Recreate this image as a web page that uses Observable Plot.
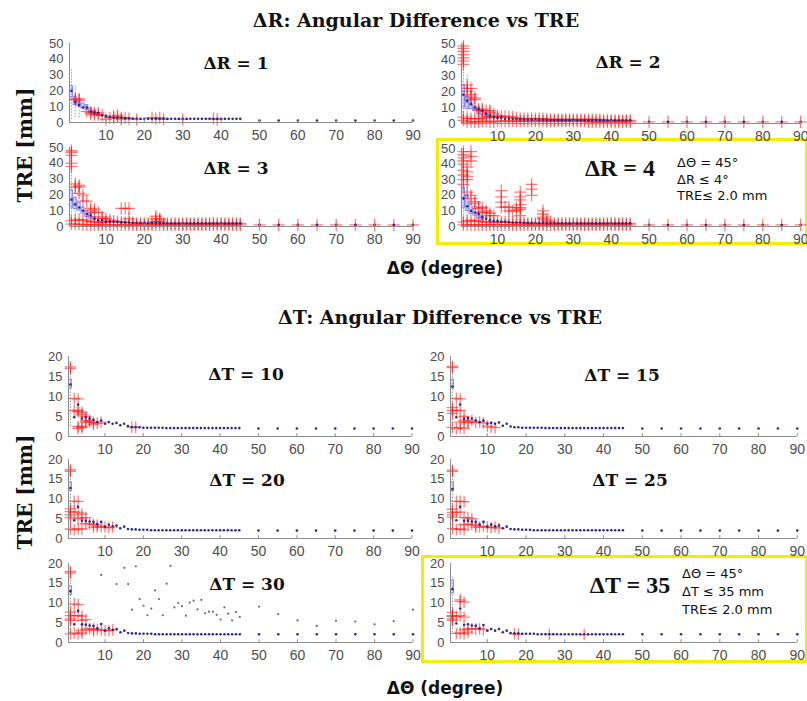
<!DOCTYPE html>
<html><head><meta charset="utf-8">
<script src="https://cdn.jsdelivr.net/npm/d3@7"></script>
<script src="https://cdn.jsdelivr.net/npm/@observablehq/plot@0.6"></script>
<style>
html,body{margin:0;padding:0;background:#fff;}
#root{position:relative;width:807px;height:701px;overflow:hidden;background:#fff;}
.t{position:absolute;white-space:nowrap;line-height:1;transform:translate(-50%,-50%);color:#111;}
.serif{font-family:"DejaVu Serif",serif;font-weight:bold;}
.times{font-family:"Liberation Serif","Times New Roman",serif;font-weight:bold;}
.sans{font-family:"DejaVu Sans",sans-serif;font-weight:bold;}
.note{position:absolute;font-family:"DejaVu Sans",sans-serif;font-size:13px;color:#111;white-space:nowrap;}
.ybox{position:absolute;border:3px solid #f2ee00;box-sizing:border-box;}
</style></head><body><div id="root"></div>
<script>
// ---------- DATA ----------
const xPos = [1,2,3,4,5,6,7,8,9,10,11,12,13,14,15,16,17,18,19,20,21,22,23,24,25,26,27,28,29,30,31,32,33,34,35,36,37,38,39,40,41,42,43,44,45,50,55,60,65,70,75,80,85,90];
const xTicks = [10,20,30,40,50,60,70,80,90];
const yTicksR = [0,10,20,30,40,50];
const yTicksT = [0,5,10,15,20];

// medians (one per xPos)
const medR1 = [20,13,11,9.5,9.5,7,6.5,6,4.5,4, 3.5,3,3,3,2.8,2.6,2.5,2.5,2.4,2.4, 2.3,2.3,2.3,2.3,2.3,2.3,2.3,2.3,2.3,2.3, 2.3,2.3,2.3,2.3,2.3,2.3,2.3,2.3,2.3,2.3, 2.3,2.3,2.3,2.3,2.3, 1.3,1.3,1.3,1.3,1.3,1.3,1.3,1.3,1.3];
const medR2 = [18,14,12,10,9,8,6,5,4,3.5, 3.5,3,3,2.8,2.8,2.6,2.5,2.5,2.4,2.4, 2.3,2.3,2.2,2.2,2.2,2.1,2.1,2.1,2.1,2.1, 2,2,2,2,2,2,2,2,2,2, 2,2,2,2,2, 1,1,1,1,1,1,1,1,1];
const medR3 = [17,14,12,10,8,7,5,4,4,3, 3,3,2.8,2.6,2.6,2.5,2.4,2.4,2.3,2.3, 2.2,2.2,2.2,2.1,2.1,2.1,2,2,2,2, 2,2,2,2,2,2,2,2,2,2, 2,2,2,2,2, 1,1,1,1,1,1,1,1,1];
const medR4 = [18,13,10,9,8,6,5,4,3.5,3.5, 3,3,2.8,2.6,2.5,2.5,2.4,2.3,2.3,2.2, 2.2,2.2,2.1,2.1,2.1,2,2,2,2,2, 2,2,2,2,2,2,2,2,2,2, 2,2,2,2,2, 1,1,1,1,1,1,1,1,1];
const medT10 = [13,4.8,8,4.5,4.8,4.5,4.2,3.6,4,3.2, 3.6,3.2,3.4,2.8,3.2,2.6,2.3,2.3,2.3,2.2, 2.2,2.2,2.2,2.2,2.2,2.1,2.1,2.1,2.1,2.1, 2.1,2.1,2.1,2.1,2.1,2.1,2.1,2.1,2.1,2.1, 2.1,2.1,2.1,2.1,2.1, 2,2,2,2,2,2,2,2,2];
const medT15 = [12.5,4.8,8,4.4,4.6,4.5,4,3.6,4,3.2, 3.4,3.2,3.5,2.7,3.2,2.5,2.3,2.3,2.2,2.2, 2.2,2.2,2.2,2.2,2.1,2.1,2.1,2.1,2.1,2.1, 2.1,2.1,2.1,2.1,2.1,2.1,2.1,2.1,2.1,2.1, 2.1,2.1,2.1,2.1,2.1, 2,2,2,2,2,2,2,2,2];
const medT20 = [12.8,4.6,8,4.5,4.5,4.3,4.2,3.6,4.2,3, 3.5,3.1,3.3,2.6,3,2.4,2.3,2.3,2.2,2.2, 2.2,2.1,2.1,2.1,2.1,2.1,2.1,2.1,2.1,2.1, 2.1,2.1,2.1,2.1,2.1,2.1,2.1,2.1,2.1,2.1, 2.1,2.1,2.1,2.1,2.1, 2,2,2,2,2,2,2,2,2];
const medT25 = [12.5,4.6,8,4.5,4.5,4.3,4.2,3.6,4.2,3, 3.5,3.1,3.3,2.6,3,2.4,2.3,2.3,2.2,2.2, 2.2,2.1,2.1,2.1,2.1,2.1,2.1,2.1,2.1,2.1, 2.1,2.1,2.1,2.1,2.1,2.1,2.1,2.1,2.1,2.1, 2.1,2.1,2.1,2.1,2.1, 2,2,2,2,2,2,2,2,2];
const medT30 = [13,4.6,8,4.6,4.5,4.3,4.2,3.6,4.7,3, 3.6,3.2,3.4,2.6,3,2.4,2.3,2.3,2.2,2.2, 2.2,2.2,2.1,2.1,2.1,2.1,2.1,2.1,2.1,2.1, 2.1,2.1,2.1,2.1,2.1,2.1,2.1,2.1,2.1,2.1, 2.1,2.1,2.1,2.1,2.1, 2.1,2.1,2.1,2.1,2.1,2.1,2.1,2.1,2.1];
const medT35 = [13.5,4.8,8.6,4.5,4.6,4.3,4.2,3.6,4.4,3, 3.4,3,3.4,2.6,3,2.4,2.3,2.3,2.2,2.2, 2.2,2.2,2.1,2.1,2.1,2.1,2.1,2.1,2.1,2.1, 2.1,2.1,2.1,2.1,2.1,2.1,2.1,2.1,2.1,2.1, 2.1,2.1,2.1,2.1,2.1, 2.1,2.1,2.1,2.1,2.1,2.1,2.1,2.1,2.1];

// dense low outlier bands (lo: one per xPos, hi: x = 1..45)
const bandLoR2 = [2,1,1,1,1,1.5,1.5,1,1,1.5, 1.5,1.5,1.5,1.5,1.5,1.5,1.5,1.5,1.5,1.5, 1.5,1.5,1.5,1.5,1.5,1.5,1.5,1.5,1.5,1.5, 1.5,1.5,1.5,1,1,1,1,1,1,1, 1,1,1,1,1, 1,1,1,1,1,1,1,1,1];
const bandHiR2 = [4,3,3,3,3,3,4,4,4,4, 4.5,4.5,4,4,3.5,3,3,3,3,3, 3,3,2.5,2.5,2.5,2.5,2.5,2.5,2.5,2.5, 2.5,2.5,2.5,2.5,2.5,2.5,2.5,2,2,2, 2,2,2,2,2];
const bandLoR3 = [1.5,1.5,1.5,1,1,1,1,1,1,1, 1,1,1,1,1,1,1,1,1,1, 1,1,1,1,1,1,1,1,1,1, 1,1,1,1,1,1,1,1,1,1, 1,1,1,1,1, 1,1,1,1,1,1,1,1,1];
const bandHiR3 = [3.5,4,4.5,4,3.5,3,3,2.5,2.5,3, 3,3.5,3,3,2.5,2.5,2.5,2,2,2, 2,2,3,3,2,2,2,2,2,2, 2,2,2,2,2,2,2,2,2,2, 2,2,2,2,2];
const bandLoR4 = [1,1,1,1,1,1,1,1,1,1, 1,1,1,1,1,1,1,1,1,1, 1,1,1,1,1,1,1,1,1,1, 1,1,1,1,1,1,1,1,1,1, 1,1,1,1,1, 1,1,1,1,1,1,1,1,1];
const bandHiR4 = [3,3.5,4,3.5,3.5,3,3,3,2.5,3, 3,3,2.5,2.5,2.5,2.5,2.5,2,2,2, 2,2,3,3,2,2,2,2,2,2, 2,2,2,2,2,2,2,2,2,2, 2,2,2,2,2];

// scattered outliers [x, TRE]
const outR1 = [[2,15],[3,15],[2,14.5],[3,14],[5,7],[6,6.5],[7,6],[8,6],[6,5.5],[7,5],[8,5],[9,4.5],[10,2],[11,3],[12,4],[12,3],[13,3.5],[13,4.5],[14,3],[14,2],[15,3],[16,2.5],[18,2],[22,3],[23,2.5],[24,3],[25,2],[30,2],[38,2.5],[39,2]];
const outR2 = [[1,37],[1,39],[1,41],[1,43],[1,45],[1,47],[1,48.5],[2,20],[2,22],[2,24],[3,15],[3,16.5],[3,18],[3,22],[4,16],[4,15],[5,9],[5,8],[6,9],[6,8],[7,8],[8,7],[8,8],[9,6],[10,5]];
const outR3 = [[1,38],[1,40],[1,45],[1,47],[1,48],[2,25],[2,27],[3,26],[3,25],[3,21],[4,20],[4,16],[5,16],[6,10],[6,11.5],[7,11],[7,9],[8,9],[9,6],[9,5],[10,5],[11,4],[14,11.5],[15,11.5],[16,11.5],[16,5],[23,5],[23,6.5],[23,3],[24,5],[24,4]];
const outR4 = [[1,40],[1,42],[1,44],[1,46],[1,48],[1,36],[1,33],[1,30],[1,27],[2,38],[2,35],[2,32],[2,30],[3,48],[3,45],[3,42],[2,22],[3,20],[3,18],[4,16],[4,15],[5,12.5],[5,11.5],[6,12],[6,9],[7,9],[7,10],[8,8.5],[8,7],[9,7],[11,23],[11,19],[11,15.6],[11,12.4],[12,12.4],[13,12.4],[13,10],[14,10],[15,10],[15,12],[16,12],[16,22],[16,19],[16,17],[16,14],[16,11],[16,7],[19,27],[19,24],[19,20],[22,10],[22,8],[22,6],[22,5],[23,4]];
const outT10 = [[1,17],[1,17.4],[2,9.5],[3,9.4],[2,6.5],[3,6.5],[3,6.2],[4,6],[4,5.5],[5,5],[3,2.5],[4,2.5],[3,2],[4,2.2],[5,4],[5,3.6],[6,3.6],[6,4],[7,3.5],[8,3.3],[9,3.6],[7,3],[17,2.4],[18,2.3]];
const outT15 = [[1,17.2],[1,17.5],[1,7.2],[1,6.5],[1,5.8],[2,9.5],[3,9.4],[2,6.5],[3,6.5],[2,2],[3,2.2],[4,2],[1,2.3],[4,4],[3,3.6],[5,3.6],[6,4],[4,5],[5,3.5],[7,3.5],[8,3.6],[9,3.4],[10,2.6],[11,2.4],[12,2.2]];
const outT20 = [[1,17.4],[1,17],[1,7.5],[1,6.8],[1,6],[1,5.3],[2,9.4],[3,9.4],[2,6.7],[3,6.7],[4,6.2],[1,2.4],[2,2.2],[3,2.4],[4,2.4],[3,5],[4,5.2],[5,5.3],[5,3.7],[6,3.7],[7,3.6],[8,3.4],[7,2.9],[8,2.9],[9,3],[10,2.9],[11,2.7],[12,2.9]];
const outT25 = [[1,17],[1,17.3],[1,7.4],[1,6.6],[1,6],[1,5.4],[2,9.4],[3,9.4],[4,9.3],[2,6.7],[3,6.7],[2,2.3],[3,2.4],[4,2.2],[1,2.5],[4,5.3],[5,5.3],[6,5],[4,3.5],[5,3.6],[6,3.5],[7,3.3],[7,2.9],[8,2.9],[9,3.1],[10,2.9],[11,2.7],[12,2.9],[13,2.6]];
const outT30 = [[1,17.6],[1,18],[1,7.7],[1,6.8],[1,6],[1,5.6],[2,9.8],[3,9.6],[2,6.8],[3,6.8],[4,6.7],[1,2.2],[2,2.4],[3,2.2],[4,2.4],[4,5.6],[5,5.8],[5,3.3],[4,3],[6,3.5],[7,3.4],[8,3.3],[7,3],[9,3.2],[10,3],[11,3],[12,3.2]];
const outT35 = [[1,7.6],[1,6.8],[1,6],[1,5.6],[3,10.4],[4,10.2],[3,10.8],[1,6.6],[2,6.6],[3,6.8],[4,6.4],[2,2.3],[3,2.4],[4,2.2],[5,2.6],[4,3.2],[5,3.4],[6,3.5],[7,3.4],[8,3.5],[9,3.2],[17,2.2],[18,2.1],[26,2.1],[35,2]];

// gray whisker ends in ΔT = 30
const grayT30 = [[9,17.1],[15,18.9],[18,19.3],[27,19.4],[13,14.8],[16,14.8],[26,14.9],[23,13.2],[19,11],[24,11],[20,9.3],[17,8.3],[22,8.6],[21,6.9],[25,6.9],[29,10],[30,9.2],[28,8.9],[31,6.8],[32,10.1],[33,10.6],[35,10.8],[34,8.4],[36,7.4],[37,7.8],[38,7.8],[39,7],[40,5.8],[41,8.9],[42,7.3],[43,5.6],[44,7.7],[45,6.5],[50,9.1],[55,7.2],[60,5.6],[65,4.2],[70,5.5],[75,5.3],[80,4.6],[85,5.4],[90,8.3]];

// boxes [x, q1, q3] and whiskers [x, lo, hi]
const boxR1 = [[1,16,23],[2,11,16],[3,10,13],[4,9,12],[5,8,11],[6,6,9],[7,5,7.5],[8,4,6]];
const whiskR1 = [[1,2,34],[2,3,24],[3,3,18]];
const boxR2 = [[1,10,24],[2,9,17],[3,9,13],[4,8,11],[5,6,10],[6,5,8],[7,4,6],[8,3,5]];
const whiskR2 = [[1,1,50],[2,1,30]];
const boxR3 = [[1,12,23],[2,11,18],[3,10,15],[4,8,12],[5,6,10],[6,5,8],[7,4,6]];
const whiskR3 = [[1,1,50],[2,1,30]];
const boxR4 = [[1,12,25],[2,10,20],[3,8,14],[4,7,11],[5,5,9],[6,4,7]];
const whiskR4 = [[1,1,50],[2,1,35]];
const boxT = [[1,12,14.2]];
const boxT35 = [[1,12.4,15.7]];
const whiskT = [[1,2.5,16.5]];

// ---------- LAYOUT ----------
const root = document.getElementById("root");
function pairs(vals){ return vals.map((v,i)=>[xPos[i], v]); }

const panels = [
  {px0:68.5, px90:412, pyT:43, pyB:122, ymax:50, yt:yTicksR, med:medR1, out:[...outR1], box:boxR1, wh:whiskR1, gray:[], r:4},
  {px0:460.8, px90:800, pyT:43, pyB:123, ymax:50, yt:yTicksR, med:medR2, out:[...outR2, ...pairs(bandLoR2), ...pairs(bandHiR2)], box:boxR2, wh:whiskR2, gray:[], r:4},
  {px0:68.5, px90:412, pyT:147, pyB:226, ymax:50, yt:yTicksR, med:medR3, out:[...outR3, ...pairs(bandLoR3), ...pairs(bandHiR3)], box:boxR3, wh:whiskR3, gray:[], r:4},
  {px0:460.8, px90:800, pyT:148, pyB:226, ymax:50, yt:yTicksR, med:medR4, out:[...outR4, ...pairs(bandLoR4), ...pairs(bandHiR4)], box:boxR4, wh:whiskR4, gray:[], r:4},
  {px0:67.5, px90:411, pyT:356, pyB:436, ymax:20, yt:yTicksT, med:medT10, out:outT10, box:boxT, wh:whiskT, gray:[], r:3.8},
  {px0:450.2, px90:797, pyT:356, pyB:436, ymax:20, yt:yTicksT, med:medT15, out:outT15, box:boxT, wh:whiskT, gray:[], r:3.8},
  {px0:67.5, px90:411, pyT:459, pyB:538, ymax:20, yt:yTicksT, med:medT20, out:outT20, box:boxT, wh:whiskT, gray:[], r:3.8},
  {px0:450.2, px90:797, pyT:459, pyB:538, ymax:20, yt:yTicksT, med:medT25, out:outT25, box:boxT, wh:whiskT, gray:[], r:3.8},
  {px0:67.5, px90:412, pyT:563, pyB:642, ymax:20, yt:yTicksT, med:medT30, out:outT30, box:boxT, wh:whiskT, gray:grayT30, r:3.8},
  {px0:450.2, px90:797, pyT:563, pyB:642, ymax:20, yt:yTicksT, med:medT35, out:outT35, box:boxT35, wh:whiskT, gray:[], r:3.8}
];

// yellow highlight boxes first (behind)
function ybox(l,t,w,h){ const d=document.createElement("div"); d.className="ybox"; Object.assign(d.style,{left:l+"px",top:t+"px",width:w+"px",height:h+"px"}); root.appendChild(d); }
ybox(436,138,372,107);
ybox(421,555,387,108);

const axisColor = "#8c8c8c";
for (const p of panels) {
  const mL=34, mR=14, mT=6, mB=26;
  const iw = p.px90 - p.px0, ih = p.pyB - p.pyT;
  const chart = Plot.plot({
    width: iw + mL + mR, height: ih + mT + mB,
    marginLeft: mL, marginRight: mR, marginTop: mT, marginBottom: mB,
    style: {fontFamily: "'Liberation Sans', Arial, sans-serif", color: "#4d4d4d", background: "transparent", overflow: "visible"},
    x: {domain: [0.5, 90]},
    y: {domain: [0, p.ymax]},
    marks: [
      Plot.ruleX(p.wh, {x: d=>d[0], y1: d=>d[1], y2: d=>d[2], stroke: "#9a9a9a", strokeDasharray: "1.5,1.5", strokeWidth: 1}),
      Plot.rect(p.box, {x1: d=>d[0]-0.4, x2: d=>d[0]+0.4, y1: d=>d[1], y2: d=>d[2], stroke: "#7070ff", strokeOpacity: 0.8, fill: "#b4b4ff", fillOpacity: 0.45}),
      Plot.dot(p.gray, {x: d=>d[0], y: d=>d[1], r: 1.1, fill: "#6a6a6a", stroke: null}),
      Plot.dot(p.out, {x: d=>d[0], y: d=>d[1], symbol: "plus", r: p.r, stroke: "#ff1010", strokeOpacity: 0.55, strokeWidth: 1.3}),
      Plot.dot(pairs(p.med), {x: d=>d[0], y: d=>d[1], r: 1.3, fill: "#2c2c88", stroke: null}),
      Plot.ruleY([0], {stroke: axisColor}),
      Plot.ruleX([0.5], {stroke: axisColor}),
      Plot.ruleX(xTicks, {x: d=>d, y1: 0, y2: p.ymax*0.035, stroke: axisColor}),
      Plot.axisX({ticks: xTicks, tickSize: 0, tickPadding: 8, fontSize: 14, label: null}),
      Plot.axisY({ticks: p.yt, tickSize: 0, tickPadding: 6, fontSize: 13, label: null})
    ]
  });
  chart.style.position = "absolute";
  chart.style.left = (p.px0 - mL) + "px";
  chart.style.top = (p.pyT - mT) + "px";
  root.appendChild(chart);
}

// texts
function txt(s, cls, x, y, size, rot){
  const d=document.createElement("div"); d.className="t "+cls; d.textContent=s;
  d.style.left=x+"px"; d.style.top=y+"px"; d.style.fontSize=size+"px";
  if (rot) d.style.transform="translate(-50%,-50%) rotate(-90deg)";
  root.appendChild(d);
}
function note(lines, x, y, lh){
  const d=document.createElement("div"); d.className="note";
  d.style.left=x+"px"; d.style.top=y+"px"; d.style.lineHeight=lh+"px";
  d.innerHTML = lines.join("<br>"); root.appendChild(d);
}
txt("ΔR: Angular Difference vs TRE","serif",416,20,19);
txt("ΔT: Angular Difference vs TRE","serif",440,317,19);
txt("ΔΘ (degree)","sans",445,268,17);
txt("ΔΘ (degree)","sans",445,688,17);
txt("TRE [mm]","serif",25,145,20,true);
txt("TRE [mm]","serif",25,492,20,true);
txt("ΔR = 1","serif",236,63,17);
txt("ΔR = 2","serif",628,62,17);
txt("ΔR = 3","serif",236,168,17);
txt("ΔR = 4","times",620,168,24);
txt("ΔT = 10","serif",246,374,17);
txt("ΔT = 15","serif",622,375,17);
txt("ΔT = 20","serif",247,480,17);
txt("ΔT = 25","serif",630,480,17);
txt("ΔT = 30","serif",247,584,17);
txt("ΔT = 35","times",630,585,24);
note(["ΔΘ = 45°","ΔR ≤ 4°","TRE≤ 2.0 mm"],677,155,16.5);
note(["ΔΘ = 45°","ΔT ≤ 35 mm","TRE≤ 2.0 mm"],682,565,18);
</script></body></html>
